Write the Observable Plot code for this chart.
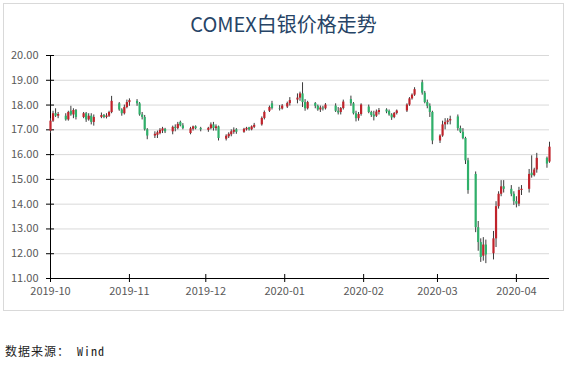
<!DOCTYPE html>
<html>
<head>
<meta charset="utf-8">
<script src="https://cdn.jsdelivr.net/npm/d3@7"></script>
<script src="https://cdn.jsdelivr.net/npm/@observablehq/plot@0.6"></script>
<style>
  body { margin: 0; background: #fff; }
  #wrap { position: relative; width: 580px; height: 377px; font-family: "Noto Sans CJK SC", "Noto Sans", sans-serif; }
  #chart { position: absolute; left: 0; top: 0; }
  #frame { position: absolute; left: 3px; top: 3px; width: 559px; height: 306px; border: 1px solid #d9d9d9; pointer-events: none; }
  #title { position: absolute; left: 3px; width: 561px; top: 10px; text-align: center; font-size: 20px; line-height: 28px; color: #264466; }
  #caption { position: absolute; left: 5px; top: 342px; font-size: 12px; letter-spacing: 1px; color: #222; font-family: "Noto Sans Mono CJK SC", "Noto Sans CJK SC", monospace; }
</style>
</head>
<body>
<div id="wrap">
  <div id="chart"></div>
  <div id="frame"></div>
  <div id="title">COMEX白银价格走势</div>
  <div id="caption">数据来源： Wind</div>
</div>
<script>
// ---- data ----
const dates = [
"2019-10-01","2019-10-02","2019-10-03","2019-10-04","2019-10-07","2019-10-08","2019-10-09","2019-10-10","2019-10-11",
"2019-10-14","2019-10-15","2019-10-16","2019-10-17","2019-10-18","2019-10-21","2019-10-22","2019-10-23","2019-10-24","2019-10-25",
"2019-10-28","2019-10-29","2019-10-30","2019-10-31","2019-11-01","2019-11-04","2019-11-05","2019-11-06","2019-11-07","2019-11-08",
"2019-11-11","2019-11-12","2019-11-13","2019-11-14","2019-11-15","2019-11-18","2019-11-19","2019-11-20","2019-11-21","2019-11-22",
"2019-11-25","2019-11-26","2019-11-27","2019-11-29","2019-12-02","2019-12-03","2019-12-04","2019-12-05","2019-12-06",
"2019-12-09","2019-12-10","2019-12-11","2019-12-12","2019-12-13","2019-12-16","2019-12-17","2019-12-18","2019-12-19","2019-12-20",
"2019-12-23","2019-12-24","2019-12-26","2019-12-27","2019-12-30","2019-12-31","2020-01-02","2020-01-03",
"2020-01-06","2020-01-07","2020-01-08","2020-01-09","2020-01-10","2020-01-13","2020-01-14","2020-01-15","2020-01-16","2020-01-17",
"2020-01-21","2020-01-22","2020-01-23","2020-01-24","2020-01-27","2020-01-28","2020-01-29","2020-01-30","2020-01-31",
"2020-02-03","2020-02-04","2020-02-05","2020-02-06","2020-02-07","2020-02-10","2020-02-11","2020-02-12","2020-02-13","2020-02-14",
"2020-02-18","2020-02-19","2020-02-20","2020-02-21","2020-02-24","2020-02-25","2020-02-26","2020-02-27","2020-02-28",
"2020-03-02","2020-03-03","2020-03-04","2020-03-05","2020-03-06","2020-03-09","2020-03-10","2020-03-11","2020-03-12","2020-03-13",
"2020-03-16","2020-03-17","2020-03-18","2020-03-19","2020-03-20","2020-03-23","2020-03-24","2020-03-25","2020-03-26","2020-03-27",
"2020-03-30","2020-03-31","2020-04-01","2020-04-02","2020-04-03","2020-04-06","2020-04-07","2020-04-08","2020-04-09",
"2020-04-13","2020-04-14"
];
const open = [
16.95,17.35,17.65,17.55,17.55,17.40,17.75,17.60,17.78,
17.50,17.65,17.40,17.55,17.30,17.50,17.58,17.50,17.55,17.70,
18.05,17.80,17.65,17.90,18.10,18.15,18.05,17.60,17.50,17.00,
16.75,16.78,16.85,16.95,17.02,16.92,17.10,17.05,17.30,17.16,
16.85,17.02,17.12,17.05,16.98,17.05,17.20,17.05,17.12,
16.62,16.72,16.80,16.90,17.00,16.90,17.00,17.08,17.00,17.10,
17.20,17.46,17.75,18.05,17.86,17.84,17.92,18.06,
18.20,18.28,18.45,18.10,17.85,18.06,17.95,17.80,17.88,17.85,
17.96,17.75,17.70,17.86,18.22,18.05,17.65,17.45,17.62,
17.92,17.70,17.60,17.55,17.70,17.80,17.74,17.60,17.50,17.66,
17.76,18.00,18.25,18.40,18.90,18.48,18.10,17.95,17.70,
16.55,16.75,17.20,17.30,17.36,17.52,17.05,16.90,16.65,15.75,
15.20,13.05,12.45,11.90,12.35,12.00,12.60,13.90,14.40,14.70,
14.60,14.40,14.10,14.00,14.55,14.60,15.25,15.15,15.38,
15.85,15.70
];
const high = [
17.45,17.75,17.85,17.70,17.65,17.75,17.95,17.85,17.82,
17.70,17.70,17.65,17.65,17.60,17.68,17.62,17.65,17.75,18.35,
18.10,17.85,18.00,18.20,18.25,18.22,18.10,17.70,17.58,17.05,
16.92,16.95,17.05,17.10,17.06,17.15,17.20,17.30,17.35,17.25,
17.10,17.15,17.16,17.10,17.10,17.28,17.30,17.20,17.15,
16.80,16.88,17.00,17.08,17.05,17.06,17.10,17.10,17.16,17.26,
17.52,17.76,17.96,18.15,17.98,18.02,18.12,18.30,
18.45,18.52,18.90,18.22,18.15,18.10,18.00,17.96,17.95,18.06,
18.05,17.90,17.90,18.20,18.36,18.10,17.75,17.70,18.05,
18.00,17.75,17.75,17.80,17.86,17.85,17.80,17.65,17.70,17.80,
18.05,18.30,18.45,18.70,19.00,18.55,18.20,18.05,17.75,
16.80,17.35,17.45,17.45,17.55,17.60,17.15,17.05,16.70,15.85,
15.30,13.30,12.60,12.65,12.55,12.90,14.10,14.50,14.95,14.95,
14.75,14.50,14.30,14.68,14.75,15.40,15.95,15.45,16.05,
15.90,16.50
];
const low = [
16.85,17.30,17.50,17.45,17.35,17.35,17.55,17.45,17.40,
17.45,17.30,17.35,17.20,17.15,17.45,17.45,17.44,17.50,17.65,
17.75,17.55,17.60,17.85,17.95,17.95,17.55,17.40,16.95,16.60,
16.65,16.65,16.80,16.85,16.85,16.80,16.92,17.00,17.12,17.00,
16.80,16.95,17.00,16.92,16.90,17.00,16.95,16.95,16.55,
16.55,16.65,16.72,16.82,16.82,16.86,16.95,16.95,16.96,17.05,
17.15,17.40,17.70,17.80,17.76,17.80,17.86,17.96,
18.05,18.15,17.90,17.75,17.80,17.85,17.75,17.70,17.76,17.80,
17.70,17.60,17.60,17.80,17.95,17.60,17.32,17.35,17.55,
17.65,17.50,17.36,17.50,17.60,17.65,17.55,17.38,17.45,17.60,
17.70,17.95,18.20,18.35,18.40,18.05,17.85,17.50,16.40,
16.45,16.70,17.00,17.20,17.20,16.95,16.85,16.60,15.60,14.40,
12.85,12.10,11.65,11.70,11.60,11.75,12.25,13.80,14.30,14.45,
14.30,13.95,13.85,13.90,14.35,14.45,15.05,15.10,15.25,
15.45,15.65
];
const close = [
17.35,17.65,17.55,17.62,17.40,17.70,17.60,17.78,17.50,
17.65,17.40,17.55,17.30,17.50,17.58,17.50,17.56,17.70,18.15,
17.80,17.65,17.90,18.10,18.18,18.05,17.60,17.50,17.00,16.75,
16.82,16.88,16.98,17.04,16.92,17.10,17.05,17.22,17.16,17.05,
17.04,17.12,17.05,17.00,17.06,17.20,17.05,17.12,16.65,
16.74,16.82,16.92,16.98,16.90,17.02,17.06,17.00,17.12,17.18,
17.46,17.70,17.90,17.86,17.84,17.96,18.06,18.18,
18.28,18.45,18.10,17.85,18.10,17.95,17.80,17.88,17.84,18.00,
17.75,17.68,17.86,18.12,18.05,17.65,17.45,17.62,18.00,
17.70,17.58,17.52,17.72,17.78,17.72,17.60,17.48,17.66,17.76,
18.00,18.25,18.40,18.62,18.48,18.10,17.95,17.70,16.55,
16.75,17.20,17.30,17.36,17.42,17.05,16.90,16.65,15.75,14.55,
13.05,12.45,11.85,12.35,11.95,12.60,13.90,14.40,14.70,14.60,
14.40,14.10,14.00,14.55,14.60,15.20,15.15,15.38,15.85,
15.62,16.30
];
const yTickValues = [11, 12, 13, 14, 15, 16, 17, 18, 19, 20];
const monthTicks = ["2019-10-01","2019-11-01","2019-12-01","2020-01-01","2020-02-01","2020-03-01","2020-04-01"];
const xStart = "2019-10-01";
const xEnd = "2020-04-14";
const upColor = "#c0232b";
const downColor = "#2fb06a";

// ---- build ----
const data = dates.map((d, i) => ({date: new Date(d), open: open[i], high: high[i], low: low[i], close: close[i]}));
const months = monthTicks.map(d => new Date(d));
const x0 = new Date(xStart), x1 = new Date(xEnd);

const chart = Plot.plot({
  width: 580,
  height: 320,
  marginLeft: 50,
  marginRight: 31,
  marginTop: 55,
  marginBottom: 42,
  x: {type: "utc", domain: [x0, x1]},
  y: {domain: [11, 20]},
  style: {background: "none", fontFamily: '"Noto Sans CJK SC", "Noto Sans", sans-serif', fontSize: "11px", color: "#595959"},
  marks: [
    Plot.gridY(yTickValues.filter(v => v > 11), {stroke: "#d9d9d9", strokeOpacity: 1}),
    Plot.ruleY([11], {stroke: "#000"}),
    Plot.ruleX([x0], {stroke: "#000"}),
    Plot.ruleY(yTickValues, {y: d => d, x1: () => x0, x2: () => x0, insetLeft: -4, insetRight: -4, stroke: "#000"}),
    Plot.ruleX(months, {x: d => d, y1: () => 11, y2: () => 11, insetTop: -4, insetBottom: -4, stroke: "#000"}),
    Plot.axisY(yTickValues, {tickSize: 0, tickPadding: 12, tickFormat: d3.format(".2f"), fill: "#595959", fontSize: 11}),
    Plot.axisX(months, {tickSize: 0, tickPadding: 9, tickFormat: d3.utcFormat("%Y-%m"), fill: "#595959", fontSize: 11}),
    Plot.ruleX(data, {x: "date", y1: "low", y2: "high", stroke: "#3a3a3a", strokeWidth: 1}),
    Plot.ruleX(data, {x: "date", y1: "open", y2: "close", stroke: d => d.close >= d.open ? upColor : downColor, strokeWidth: 2.2})
  ]
});
document.getElementById("chart").appendChild(chart);
</script>
</body>
</html>
